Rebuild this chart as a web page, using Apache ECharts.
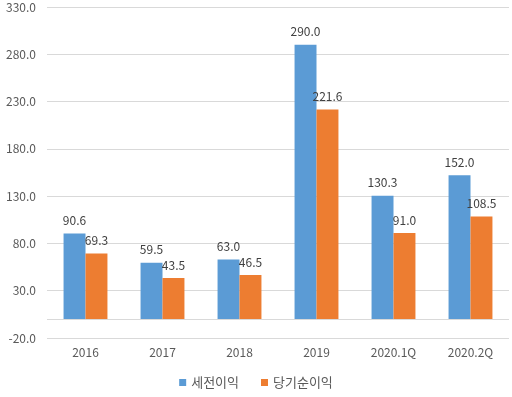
<!DOCTYPE html>
<html>
<head>
<meta charset="utf-8">
<script src="https://cdn.jsdelivr.net/npm/echarts@6/dist/echarts.min.js"></script>
<style>
  html, body { margin: 0; padding: 0; background: #fff; }
  #chart { width: 512px; height: 397px; }
</style>
</head>
<body>
<div id="chart"></div>
<script>
var categories = ['2016', '2017', '2018', '2019', '2020.1Q', '2020.2Q'];
var preTax = [90.6, 59.5, 63.0, 290.0, 130.3, 152.0];
var netIncome = [69.3, 43.5, 46.5, 221.6, 91.0, 108.5];
var seriesNames = ['세전이익', '당기순이익'];

var font = '"Noto Sans CJK KR", "Noto Sans", sans-serif';
var chart = echarts.init(document.getElementById('chart'), null, { renderer: 'canvas' });

function barLabel() {
  return {
    show: true,
    position: 'top',
    distance: 7,
    color: '#404040',
    fontSize: 12,
    fontFamily: font,
    formatter: function (p) { return p.value.toFixed(1); }
  };
}

var option = {
  animation: false,
  backgroundColor: '#fff',
  grid: { left: 47, right: 3, top: 7, bottom: 59 },
  legend: {
    bottom: 3,
    left: 'center',
    itemWidth: 7,
    itemHeight: 7,
    itemGap: 22,
    icon: 'rect',
    textStyle: { color: '#595959', fontSize: 13, fontFamily: font },
    data: seriesNames
  },
  xAxis: {
    type: 'category',
    data: categories,
    axisLine: { show: false, onZero: false },
    axisTick: { show: false },
    axisLabel: { color: '#595959', fontSize: 12, fontFamily: font, margin: 8 }
  },
  yAxis: {
    type: 'value',
    min: -20,
    max: 330,
    interval: 50,
    axisLine: { show: false },
    axisTick: { show: false },
    splitLine: { lineStyle: { color: '#D9D9D9', width: 1 } },
    axisLabel: {
      color: '#595959', fontSize: 12, fontFamily: font, margin: 11,
      formatter: function (v) { return v.toFixed(1); }
    }
  },
  series: [
    {
      name: seriesNames[0],
      type: 'bar',
      data: preTax,
      barGap: '0%',
      barCategoryGap: '43%',
      itemStyle: { color: '#5B9BD5' },
      label: barLabel(),
      markLine: {
        silent: true,
        symbol: 'none',
        label: { show: false },
        lineStyle: { color: '#D9D9D9', type: 'solid', width: 1 },
        data: [{ yAxis: 0 }]
      }
    },
    {
      name: seriesNames[1],
      type: 'bar',
      data: netIncome,
      itemStyle: { color: '#ED7D31' },
      label: barLabel()
    }
  ]
};

chart.setOption(option);
</script>
</body>
</html>
